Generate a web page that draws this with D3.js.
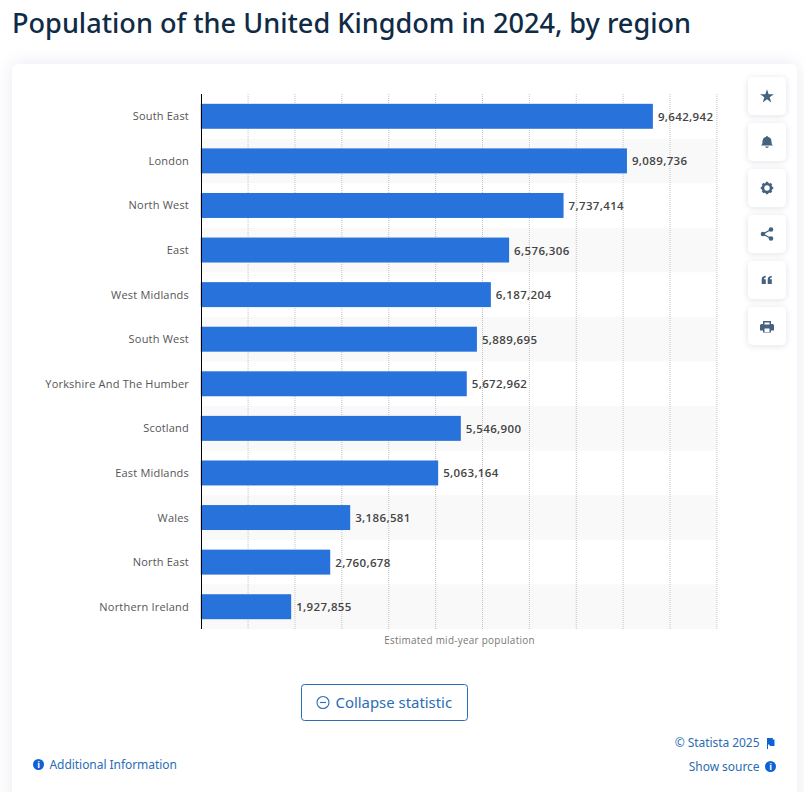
<!DOCTYPE html>
<html><head><meta charset="utf-8">
<script src="https://cdn.jsdelivr.net/npm/d3@7/dist/d3.min.js"></script>
<style>
html,body{margin:0;padding:0;background:#fff;overflow:hidden}
svg{display:block}
text{font-family:"Open Sans","Noto Sans",sans-serif}
</style></head><body>
<svg id="c" width="804" height="792"></svg>
<script>
const titleText = "Population of the United Kingdom in 2024, by region";
const categories = ["South East","London","North West","East","West Midlands","South West","Yorkshire And The Humber","Scotland","East Midlands","Wales","North East","Northern Ireland"];
const population = [9642942,9089736,7737414,6576306,6187204,5889695,5672962,5546900,5063164,3186581,2760678,1927855];
const xTicks = [0,1e6,2e6,3e6,4e6,5e6,6e6,7e6,8e6,9e6,1e7,1.1e7];
const axisTitle = "Estimated mid-year population";

const svg = d3.select("#c");
const defs = svg.append("defs");
const f = defs.append("filter").attr("id","sh").attr("x","-20%").attr("y","-20%").attr("width","140%").attr("height","140%");
f.append("feDropShadow").attr("dx",0).attr("dy",0).attr("stdDeviation",9).attr("flood-color","#1a3f70").attr("flood-opacity",0.09);
const f2 = defs.append("filter").attr("id","sh2").attr("x","-30%").attr("y","-30%").attr("width","160%").attr("height","160%");
f2.append("feDropShadow").attr("dx",0).attr("dy",1).attr("stdDeviation",3).attr("flood-color","#12335a").attr("flood-opacity",0.12);

svg.append("rect").attr("width",804).attr("height",792).attr("fill","#fff");
svg.append("rect").attr("x",12).attr("y",64).attr("width",785).attr("height",760).attr("rx",7).attr("fill","#fff").attr("filter","url(#sh)");
svg.append("text").attr("x",12).attr("y",33).attr("font-size",27.1).attr("font-weight",500).attr("fill","#0f2b46").style("font-family","'Noto Sans'").text(titleText);

const x = d3.scaleLinear().domain([0,1.1e7]).range([200.8,716.5]);
const y = d3.scaleBand().domain(categories).range([94,629]).paddingInner(0.44).paddingOuter(0.22);
const rowY = d3.scaleBand().domain(categories).range([94,629]);

const g = svg.append("g");
g.selectAll("rect.stripe").data(categories.filter((d,i)=>i%2===1)).join("rect")
 .attr("x",x(0)).attr("width",x(1.1e7)-x(0)).attr("y",d=>rowY(d)).attr("height",rowY.bandwidth()).attr("fill","#f9f9fa");
g.selectAll("line.grid").data(xTicks.slice(1)).join("line")
 .attr("x1",d=>x(d)+0.4).attr("x2",d=>x(d)+0.4).attr("y1",94).attr("y2",629)
 .attr("stroke","#c4c4c4").attr("stroke-width",1).attr("stroke-dasharray","1 1");
g.selectAll("rect.bar").data(population).join("rect")
 .attr("x",x(0)).attr("y",(d,i)=>y(categories[i])).attr("width",d=>x(d)-x(0)).attr("height",y.bandwidth()).attr("fill","#2872dc");
g.append("line").attr("x1",201.5).attr("x2",201.5).attr("y1",94).attr("y2",629).attr("stroke","#000").attr("stroke-width",1);
g.selectAll("text.cat").data(categories).join("text")
 .attr("x",189).attr("y",d=>rowY(d)+rowY.bandwidth()/2+4).attr("text-anchor","end").attr("font-size",11).attr("letter-spacing",0.2).attr("fill","#555").text(d=>d);
g.selectAll("text.val").data(population).join("text")
 .attr("x",d=>x(d)+5).attr("y",(d,i)=>rowY(categories[i])+rowY.bandwidth()/2+4.5).attr("font-size",11.5).attr("font-weight",600).attr("letter-spacing",0.36).attr("fill","#444").text(d3.format(","));
svg.append("text").attr("x",459.5).attr("y",644).attr("text-anchor","middle").attr("font-size",9.9).attr("letter-spacing",0.3).attr("fill","#777").text(axisTitle);

// side buttons
const btnG = svg.append("g");
const btnY = [77,123,169,215,261,307];
btnY.forEach(b=>btnG.append("rect").attr("x",748).attr("y",b).attr("width",38).attr("height",38).attr("rx",5).attr("fill","#fff").attr("filter","url(#sh2)"));
const ic = "#456180";
btnG.append("path").attr("fill",ic).attr("d",d3.symbol(d3.symbolStar,60)()).attr("transform","translate(767,96.5)");
btnG.append("path").attr("fill",ic).attr("d","M767 136a1 1 0 0 1 1 1c3 .6 3.6 3 3.6 5.5 0 1.4.6 2.2 1.4 3h-12c.8-.8 1.4-1.6 1.4-3 0-2.500.6-4.900 3.600-5.500a1 1 0 0 1 1-1z M765.200 146.500h3.600a1.800 1.500 0 0 1-3.600 0z");
btnG.append("circle").attr("cx",767).attr("cy",188).attr("r",4).attr("fill","none").attr("stroke",ic).attr("stroke-width",2.6);
d3.range(8).forEach(i=>btnG.append("rect").attr("x",765.8).attr("y",181.800).attr("width",2.4).attr("height",2).attr("fill",ic).attr("transform",`rotate(${i*45} 767 188)`));
[[771,229.500],[763,234],[771,238.500]].forEach(p=>btnG.append("circle").attr("cx",p[0]).attr("cy",p[1]).attr("r",2.300).attr("fill",ic));
btnG.append("path").attr("d","M771 229.500L763 234L771 238.500").attr("fill","none").attr("stroke",ic).attr("stroke-width",1.300);
[761.7,767.7].forEach(q=>btnG.append("path").attr("fill",ic).attr("d",`M${q} 284v-4.500c0-2.200 1.300-3.500 4-3.800v1.800c-1.200.2-1.700.7-1.800 1.700h1.900v4.800z`));
btnG.append("path").attr("fill",ic).attr("fill-rule","evenodd").attr("d","M763 321h8v3h1.500a1.500 1.500 0 0 1 1.500 1.500v5h-3v2h-8v-2h-3v-5a1.500 1.500 0 0 1 1.500-1.500h1.500z M764.500 322.500v2h5v-2z M764.500 328.500v3.500h5v-3.500z");

// button + footer
svg.append("rect").attr("x",301.500).attr("y",684.500).attr("width",166).attr("height",36).attr("rx",3).attr("fill","#fff").attr("stroke","#2a6db5").attr("stroke-width",1);
svg.append("circle").attr("cx",323).attr("cy",702.500).attr("r",6).attr("fill","none").attr("stroke","#2a6db5").attr("stroke-width",1.100);
svg.append("line").attr("x1",320).attr("x2",326).attr("y1",702.500).attr("y2",702.500).attr("stroke","#2a6db5").attr("stroke-width",1.100);
svg.append("text").attr("x",335.500).attr("y",708).attr("font-size",14.9).attr("fill","#2a6db5").style("font-family","'Noto Sans'").text("Collapse statistic");

function info(cx,cy){
  svg.append("circle").attr("cx",cx).attr("cy",cy).attr("r",5.500).attr("fill","#0f62d6");
  svg.append("text").attr("x",cx).attr("y",cy+3.500).attr("text-anchor","middle").attr("font-size",9).attr("font-weight",700).attr("fill","#fff").text("i");
}
info(38.500,764.500);
svg.append("text").attr("x",49.500).attr("y",769).attr("font-size",12).attr("letter-spacing",-0.05).attr("fill","#2a6db5").style("font-family","'Noto Sans'").text("Additional Information");
svg.append("text").attr("x",759.500).attr("y",747).attr("text-anchor","end").attr("font-size",12).attr("letter-spacing",-0.05).attr("fill","#2a6db5").style("font-family","'Noto Sans'").text("© Statista 2025");
svg.append("path").attr("fill","#0f62d6").attr("d","M767 738h6l-.5 1.500h2v6.500h-4.500l-.8-1.500h-1.200v4.500h-1z");
svg.append("text").attr("x",759.500).attr("y",771).attr("text-anchor","end").attr("font-size",12).attr("letter-spacing",-0.05).attr("fill","#2a6db5").style("font-family","'Noto Sans'").text("Show source");
info(770.500,766.500);
</script>
</body></html>
